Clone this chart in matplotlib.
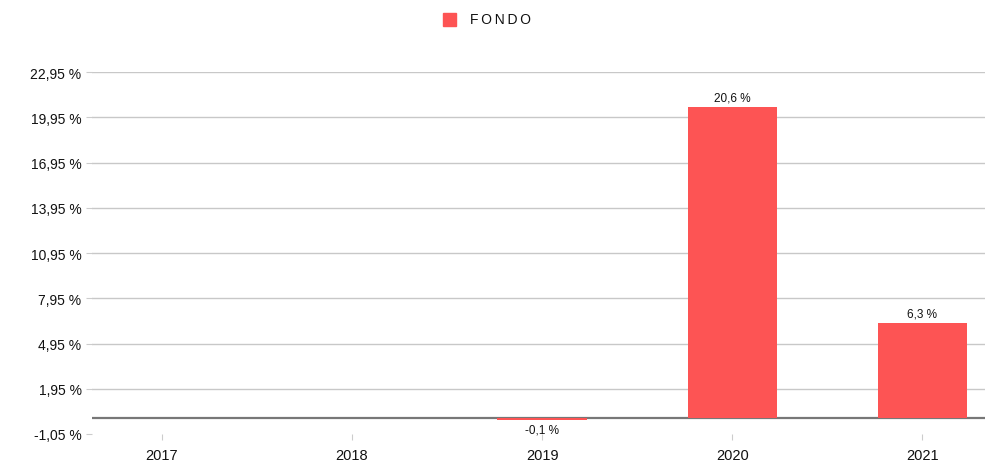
import matplotlib
matplotlib.use("Agg")
import matplotlib.pyplot as plt
import numpy as np

plt.rcParams['font.family'] = ['Liberation Sans', 'DejaVu Sans']

years = ['2017', '2018', '2019', '2020', '2021']
fondo = [np.nan, np.nan, -0.1, 20.6, 6.3]
yticks = [-1.05, 1.95, 4.95, 7.95, 10.95, 13.95, 16.95, 19.95, 22.95]

RED = '#fd5454'

fig = plt.figure(figsize=(9.85, 4.64), dpi=100)
ax = fig.add_axes([92 / 985, 29 / 464, 893 / 985, 362 / 464])

x = np.arange(len(years))
ax.bar(x, fondo, 0.47, color=RED, zorder=3)

for xi, v in zip(x, fondo):
    if np.isnan(v):
        continue
    lbl = ('%.1f %%' % v).replace('.', ',')
    if v >= 0:
        ax.text(xi, v + 0.25, lbl, ha='center', va='bottom', fontsize=8.5, color='#111111')
    else:
        ax.text(xi, v - 0.25, lbl, ha='center', va='top', fontsize=8.5, color='#111111')

ax.set_xlim(-0.368, 4.33)
ax.set_ylim(-1.05, 22.95)
ax.set_yticks(yticks)
ax.set_yticklabels([('%.2f %%' % t).replace('.', ',') for t in yticks], fontsize=10, color='#111111')
ax.set_xticks(x)
ax.set_xticklabels(years, fontsize=10.5, color='#111111')
ax.tick_params(axis='both', length=4, color='#cccccc', width=0.8)
ax.tick_params(axis='x', pad=6)

ax.grid(axis='y', color='#c8c8c8', linewidth=1, zorder=0)
ax.get_ygridlines()[0].set_visible(False)
ax.axhline(0, color='#777777', linewidth=1.6, zorder=2)
for spine in ax.spines.values():
    spine.set_visible(False)

# legend
fig.patches.append(plt.Rectangle((443 / 985, 1 - 27 / 464), 13 / 985, 13 / 464,
                                 transform=fig.transFigure, color=RED))
fig.text(470 / 985, 1 - 20 / 464, 'F O N D O'.replace(' ', '\u2009'), fontsize=10,
         va='center', ha='left', color='#111111')

fig.savefig('out.png', dpi=100)
